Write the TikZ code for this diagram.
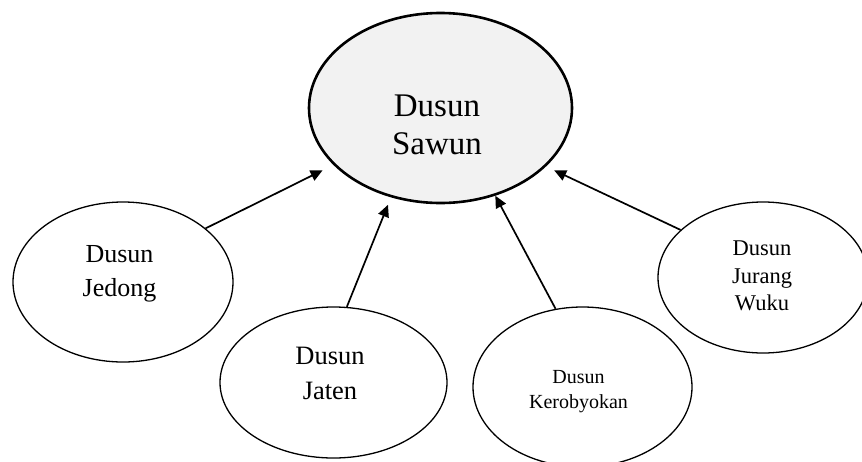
\documentclass[tikz,border=0pt]{standalone}
\usepackage{fontspec}
\setmainfont{Liberation Serif}
\usetikzlibrary{shapes.geometric,arrows.meta}
\tikzset{
  ell/.style={ellipse, draw=black, line width=1.3pt, inner sep=0pt, fill=white},
  bigell/.style={ellipse, draw=black, line width=2.6pt, inner sep=0pt, fill=sawunfill},
  lbl/.style={align=center, inner sep=0pt, text=black},
  arr/.style={line width=1.7pt, -{Triangle[length=12pt,width=11pt]}},
}
\definecolor{sawunfill}{HTML}{F2F2F2}
\begin{document}
\begin{tikzpicture}[x=1pt,y=-1pt]
\useasboundingbox (0,0) rectangle (862,461);
\node[bigell, minimum width=263pt, minimum height=190pt] (sawun) at (440.5,108) {};
\node[lbl, font=\fontsize{33}{38}\selectfont] (tsawun) at (437,125) {Dusun\\Sawun};
\node[ell, minimum width=220pt, minimum height=160pt] (jedong) at (123,282) {};
\node[lbl, font=\fontsize{26}{34}\selectfont] (tjedong) at (119.5,273.5) {Dusun\\Jedong};
\node[ell, minimum width=227pt, minimum height=151pt] (jaten) at (333.5,382.5) {};
\node[lbl, font=\fontsize{26.5}{35}\selectfont] (tjaten) at (330,373.5) {Dusun\\Jaten};
\node[ell, minimum width=219pt, minimum height=160pt] (kero) at (582.5,387) {};
\node[lbl, font=\fontsize{20}{25}\selectfont] (tkero) at (578.5,392) {Dusun\\Kerobyokan};
\node[ell, minimum width=210pt, minimum height=151pt] (jurang) at (763,277.5) {};
\node[lbl, font=\fontsize{22.5}{27.5}\selectfont] (tjurang) at (762,276) {Dusun\\Jurang\\Wuku};
\draw[arr, shorten >=12pt] (jedong.33) -- (sawun.208.6);
\draw[arr, shorten >=8pt] (jaten.80) -- (sawun.241.8);
\draw[arr, shorten >=0pt] (kero.109.6) -- (sawun.302.7);
\draw[arr, shorten >=9pt] (jurang.150) -- (sawun.331.7);
\end{tikzpicture}
\end{document}
